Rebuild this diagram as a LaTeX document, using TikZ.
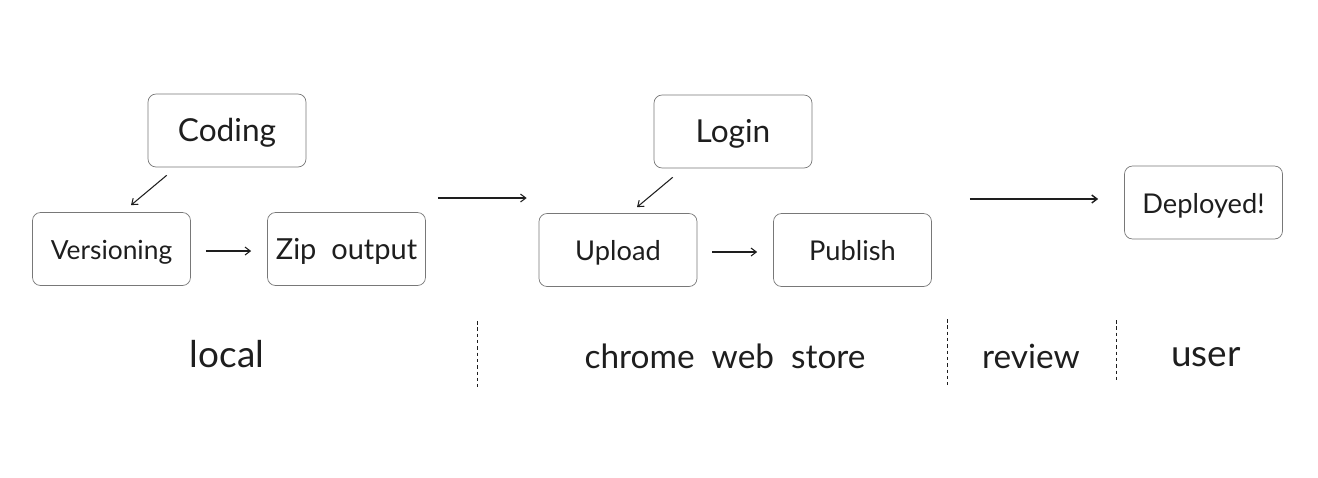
\documentclass[tikz,border=0pt]{standalone}
\usepackage{fontspec}
\usetikzlibrary{arrows.meta}
\setmainfont{Lato}[WordSpace=2]
\definecolor{ink}{HTML}{1E1E1E}
\tikzset{
	stepbox/.style={draw=ink!60,line width=0.4pt,rounded corners=0.16cm,minimum width=3.16cm,minimum height=1.46cm,inner sep=0pt,text=ink,text height=14pt,text depth=2pt},
	flow/.style={ink,line width=0.6pt,-{Straight Barb[length=3pt,width=4.5pt]}},
	split/.style={ink,line width=0.4pt,dash pattern=on 2pt off 1.6pt},
	zonelabel/.style={text=ink,font=\fontsize{#1}{22}\selectfont,inner sep=0pt,anchor=base},
	zonelabel/.default=19
}
\newcommand{\mkbox}[5][15.5]{% #1: font size, #2: name, #3: x, #4: y, #5: text
	\node[stepbox,font=\fontsize{#1}{#1}\selectfont] (#2) at (#3,#4) {#5};
}
\newcommand{\mksplit}[4]{% #1: name, #2: x, #3: y1, #4: y2
	\coordinate (#1a) at (#2,#3);
	\coordinate (#1b) at (#2,#4);
	\draw[split] (#1a) -- (#1b);
}
\begin{document}
\begin{tikzpicture}[x=0.02cm,y=-0.02cm]
	\useasboundingbox (0,0) rectangle (1318,477);
	
	% Making boxes
	\mkbox[18]{coding}{227}{130.5}{Coding}
	\mkbox[15]{versioning}{111.5}{249}{Versioning}
	\mkbox[16.5]{zip}{346.5}{249}{Zip output}
	\mkbox[18]{login}{733}{131.5}{Login}
	\mkbox{upload}{618}{250}{Upload}
	\mkbox{publish}{852.5}{250}{Publish}
	\mkbox{deployed}{1203.5}{202.5}{Deployed!}
	
	% Arrows between boxes
	\draw[flow] ([shift={(19,8)}]coding.south west) -- ([shift={(19.5,-7)}]versioning.north);
	\draw[flow] ([shift={(15,2)}]versioning.east) -- ([shift={(-16,2)}]zip.west);
	\draw[flow] ([shift={(12,-51)}]zip.east) -- ([shift={(-12,-52)}]upload.west);
	\draw[flow] ([shift={(19,9)}]login.south west) -- ([shift={(19,-6)}]upload.north);
	\draw[flow] ([shift={(15,2)}]upload.east) -- ([shift={(-16,2)}]publish.west);
	\draw[flow,line width=0.8pt] ([shift={(38,-51)}]publish.east) -- ([shift={(-26,-3.5)}]deployed.west);
	
	% Dashed separators
	\mksplit{sepa}{477}{321}{387}
	\mksplit{sepb}{947}{319}{385}
	\mksplit{sepc}{1116}{320}{382}
	
	% Zone labels
	\node[zonelabel=21] (local) at (227,367) {local};
	\node[zonelabel] (store) at (725,368) {chrome web store};
	\node[zonelabel] (review) at (1031,368) {review};
	\node[zonelabel=21] (user) at (1206,366) {user};
\end{tikzpicture}
\end{document}
